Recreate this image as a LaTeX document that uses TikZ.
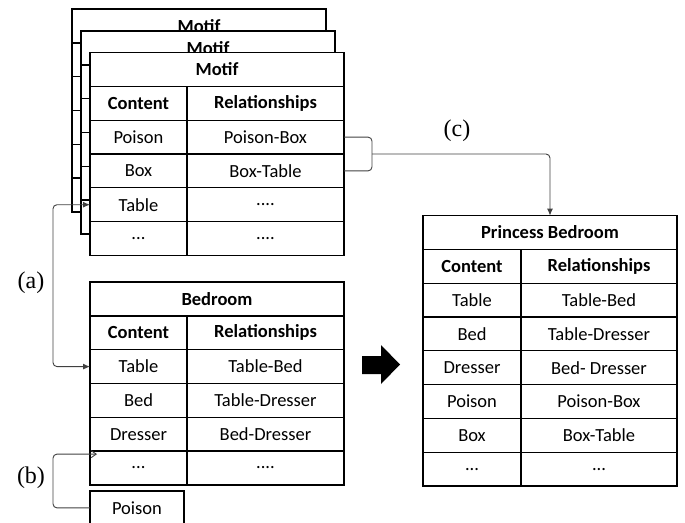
\documentclass[tikz,border=0pt]{standalone}
\usepackage{fontspec}
\setmainfont{Liberation Serif}
\newfontfamily\cellfamily{Carlito}
\usetikzlibrary{positioning}
\usetikzlibrary{calc}
\usetikzlibrary{arrows.meta}

\tikzset{
    cell/.style={draw, line width=1.3pt, fill=white, inner sep=0pt, outer sep=0pt,
        minimum height=33.8pt, font=\cellfamily\fontsize{18.5}{20}\selectfont},
    ccol/.style={cell, minimum width=97pt},
    rcol/.style={cell, minimum width=157pt},
    ttl/.style={cell, minimum width=254pt},
    hd/.style={font=\cellfamily\fontsize{18.5}{20}\selectfont\bfseries},
    lbl/.style={inner sep=0pt, font=\fontsize{24}{26}\selectfont},
    link/.style={draw=black!75, line width=0.9pt, rounded corners=4pt},
}

\begin{document}
\begin{tikzpicture}[x=1pt, y=-1pt]
            \useasboundingbox (0,0) rectangle (685,522);

            % stacked motif tables behind
            \foreach \cx/\cy/\n in {199/26/1, 208/48/2}{
                \node[ttl, hd] (mb_\n_t) at (\cx,\cy) {Motif};
                \node[ttl, below=0pt of mb_\n_t] (mb_\n_1) {};
                \node[ttl, below=0pt of mb_\n_1] (mb_\n_2) {};
                \node[ttl, below=0pt of mb_\n_2] (mb_\n_3) {};
                \node[ttl, below=0pt of mb_\n_3] (mb_\n_4) {};
                \node[ttl, below=0pt of mb_\n_4] (mb_\n_5) {};
            }

            % front motif table
            \node[ttl, hd] (m_t) at (217,69.5) {Motif};
            \node[ccol, hd, below right=0pt and 0pt of m_t.south west] (m_c_0) {Content};
            \node[rcol, hd, right=0pt of m_c_0] (m_r_0) {Relationships};
            \node[ccol, below=0pt of m_c_0] (m_c_1) {Poison};
            \node[rcol, right=0pt of m_c_1] (m_r_1) {Poison-Box};
            \node[ccol, below=0pt of m_c_1] (m_c_2) {Box};
            \node[rcol, right=0pt of m_c_2] (m_r_2) {Box-Table};
            \node[ccol, below=0pt of m_c_2] (m_c_3) {Table};
            \node[rcol, right=0pt of m_c_3] (m_r_3) {....};
            \node[ccol, below=0pt of m_c_3] (m_c_4) {...};
            \node[rcol, right=0pt of m_c_4] (m_r_4) {....};

            % bedroom table
            \node[ttl, hd] (b_t) at (217,299) {Bedroom};
            \node[ccol, hd, below right=0pt and 0pt of b_t.south west] (b_c_0) {Content};
            \node[rcol, hd, right=0pt of b_c_0] (b_r_0) {Relationships};
            \node[ccol, below=0pt of b_c_0] (b_c_1) {Table};
            \node[rcol, right=0pt of b_c_1] (b_r_1) {Table-Bed};
            \node[ccol, below=0pt of b_c_1] (b_c_2) {Bed};
            \node[rcol, right=0pt of b_c_2] (b_r_2) {Table-Dresser};
            \node[ccol, below=0pt of b_c_2] (b_c_3) {Dresser};
            \node[rcol, right=0pt of b_c_3] (b_r_3) {Bed-Dresser};
            \node[ccol, below=0pt of b_c_3] (b_c_4) {...};
            \node[rcol, right=0pt of b_c_4] (b_r_4) {....};

            \node[ccol, minimum width=94pt, anchor=north west] (poison) at (90,491) {Poison};

            % princess bedroom table
            \node[ttl, hd] (p_t) at (550,232.5) {Princess Bedroom};
            \node[ccol, hd, minimum width=98pt, below right=0pt and 0pt of p_t.south west] (p_c_0) {Content};
            \node[rcol, hd, minimum width=156pt, right=0pt of p_c_0] (p_r_0) {Relationships};
            \node[ccol, minimum width=98pt, below=0pt of p_c_0] (p_c_1) {Table};
            \node[rcol, minimum width=156pt, right=0pt of p_c_1] (p_r_1) {Table-Bed};
            \node[ccol, minimum width=98pt, below=0pt of p_c_1] (p_c_2) {Bed};
            \node[rcol, minimum width=156pt, right=0pt of p_c_2] (p_r_2) {Table-Dresser};
            \node[ccol, minimum width=98pt, below=0pt of p_c_2] (p_c_3) {Dresser};
            \node[rcol, minimum width=156pt, right=0pt of p_c_3] (p_r_3) {Bed- Dresser};
            \node[ccol, minimum width=98pt, below=0pt of p_c_3] (p_c_4) {Poison};
            \node[rcol, minimum width=156pt, right=0pt of p_c_4] (p_r_4) {Poison-Box};
            \node[ccol, minimum width=98pt, below=0pt of p_c_4] (p_c_5) {Box};
            \node[rcol, minimum width=156pt, right=0pt of p_c_5] (p_r_5) {Box-Table};
            \node[ccol, minimum width=98pt, below=0pt of p_c_5] (p_c_6) {...};
            \node[rcol, minimum width=156pt, right=0pt of p_c_6] (p_r_6) {...};

            % labels
            \node[lbl] (lab_a) at (31,283) {(a)};
            \node[lbl] (lab_b) at (31,478) {(b)};
            \node[lbl] (lab_c) at (457,131) {(c)};

            % connectors
            \draw[link, {Latex[length=7pt, width=6pt]}-{Latex[length=7pt, width=6pt]}]
                (m_c_3.west) -- ++(-37,0) |- (b_c_1.west);
            \coordinate (b_tip) at ([shift={(7,3)}]b_c_4.north west);
            \draw[link, -{Straight Barb[length=5pt, width=7pt]}]
                (poison.west) -- ++(-37,0) |- (b_tip);
            \draw[link] (m_r_1.east) -- ++(28,0) |- (m_r_2.east);
            \coordinate (c_join) at ($(m_r_1.east)!0.5!(m_r_2.east)+(28,0)$);
            \draw[link, -{Latex[length=7pt, width=6pt]}] (c_join) -| (p_t.north);

            % big arrow
            \fill (362,356) -- (381,356) -- (381,345) -- (400,364.5)
                -- (381,384) -- (381,374) -- (362,374) -- cycle;
        \end{tikzpicture}
\end{document}
